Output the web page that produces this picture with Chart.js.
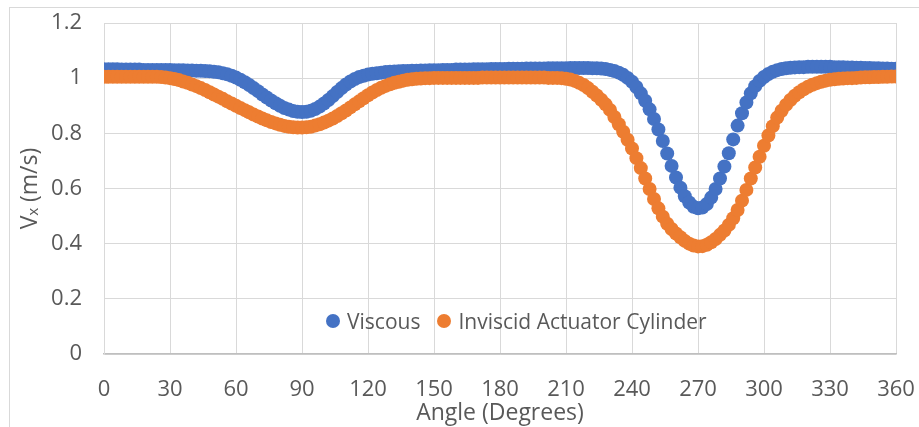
<!DOCTYPE html>
<html>
<head>
<meta charset="utf-8">
<script src="https://cdn.jsdelivr.net/npm/chart.js@4.4.1/dist/chart.umd.min.js"></script>
<style>
  body{margin:0;background:#fff;overflow:hidden;width:919px;height:427px;position:relative;font-family:'Open Sans',sans-serif}
  #frame{position:absolute;left:9px;top:7px;width:1000px;height:600px;border:1px solid #d9d9d9}
  #myChart{position:absolute;left:0;top:0}
  #leyenda{position:absolute;top:307px;left:326px;display:flex;align-items:center;font-size:21px;color:#595959;white-space:nowrap}
  #leyenda .dot{display:inline-block;width:14px;height:14px;border-radius:50%;margin-right:7px}
  #leyenda .item{display:flex;align-items:center;margin-right:17px}
</style>
</head>
<body>
<div id="frame"></div>
<canvas id="myChart" width="919" height="427"></canvas>
<div id="leyenda">
  <span class="item"><span class="dot" style="background:#4472c4"></span>Viscous</span>
  <span class="item"><span class="dot" style="background:#ed7d31"></span>Inviscid Actuator Cylinder</span>
</div>
<script>
// angulos (grados), cada 2
const angulos=[
  0,2,4,6,8,10,12,14,16,18,
  20,22,24,26,28,30,32,34,36,38,
  40,42,44,46,48,50,52,54,56,58,
  60,62,64,66,68,70,72,74,76,78,
  80,82,84,86,88,90,92,94,96,98,
  100,102,104,106,108,110,112,114,116,118,
  120,122,124,126,128,130,132,134,136,138,
  140,142,144,146,148,150,152,154,156,158,
  160,162,164,166,168,170,172,174,176,178,
  180,182,184,186,188,190,192,194,196,198,
  200,202,204,206,208,210,212,214,216,218,
  220,222,224,226,228,230,232,234,236,238,
  240,242,244,246,248,250,252,254,256,258,
  260,262,264,266,268,270,272,274,276,278,
  280,282,284,286,288,290,292,294,296,298,
  300,302,304,306,308,310,312,314,316,318,
  320,322,324,326,328,330,332,334,336,338,
  340,342,344,346,348,350,352,354,356,358,
  360
]

const viscous=[
  1.032,1.032,1.032,1.032,1.031,1.031,1.031,1.031,1.031,1.030,
  1.030,1.030,1.030,1.030,1.030,1.030,1.029,1.029,1.029,1.028,
  1.028,1.027,1.027,1.026,1.025,1.023,1.021,1.018,1.014,1.009,
  1.002,0.994,0.985,0.975,0.964,0.953,0.941,0.930,0.919,0.909,
  0.900,0.892,0.886,0.881,0.878,0.877,0.878,0.882,0.888,0.897,
  0.908,0.921,0.935,0.950,0.964,0.977,0.988,0.997,1.004,1.009,
  1.013,1.016,1.018,1.020,1.022,1.023,1.024,1.025,1.026,1.026,
  1.027,1.027,1.028,1.028,1.029,1.029,1.029,1.030,1.030,1.030,
  1.031,1.031,1.031,1.031,1.032,1.032,1.032,1.032,1.033,1.033,
  1.033,1.033,1.034,1.034,1.034,1.034,1.035,1.035,1.035,1.035,
  1.035,1.036,1.036,1.036,1.036,1.036,1.037,1.037,1.037,1.037,
  1.037,1.036,1.036,1.035,1.033,1.030,1.026,1.020,1.012,1.001,
  0.987,0.968,0.945,0.918,0.887,0.852,0.814,0.772,0.727,0.682,
  0.640,0.603,0.572,0.549,0.534,0.528,0.531,0.544,0.567,0.598,
  0.636,0.680,0.728,0.778,0.828,0.873,0.912,0.945,0.971,0.990,
  1.004,1.015,1.023,1.029,1.033,1.036,1.038,1.039,1.040,1.040,
  1.041,1.041,1.041,1.041,1.041,1.041,1.040,1.040,1.040,1.039,
  1.039,1.038,1.038,1.037,1.037,1.036,1.036,1.035,1.035,1.034,
  1.034
]

const inviscid=[
  1.005,1.005,1.005,1.005,1.005,1.005,1.005,1.005,1.005,1.005,
  1.005,1.005,1.005,1.004,1.002,1.000,0.997,0.993,0.988,0.983,
  0.977,0.971,0.964,0.957,0.949,0.941,0.933,0.925,0.916,0.908,
  0.900,0.892,0.884,0.876,0.868,0.861,0.854,0.847,0.841,0.836,
  0.831,0.827,0.824,0.822,0.821,0.821,0.822,0.824,0.828,0.833,
  0.839,0.846,0.854,0.863,0.873,0.883,0.894,0.905,0.916,0.927,
  0.938,0.948,0.957,0.965,0.972,0.978,0.983,0.987,0.991,0.994,
  0.996,0.998,0.999,1.000,1.000,1.001,1.001,1.001,1.001,1.001,
  1.001,1.001,1.001,1.001,1.001,1.001,1.002,1.002,1.002,1.002,
  1.002,1.002,1.002,1.002,1.002,1.002,1.002,1.002,1.002,1.002,
  1.002,1.001,1.001,1.001,1.000,0.998,0.995,0.990,0.983,0.975,
  0.964,0.951,0.937,0.922,0.905,0.885,0.859,0.833,0.806,0.777,
  0.745,0.710,0.674,0.636,0.598,0.562,0.528,0.498,0.472,0.453,
  0.437,0.423,0.410,0.400,0.393,0.390,0.391,0.396,0.405,0.417,
  0.432,0.448,0.468,0.492,0.522,0.556,0.595,0.636,0.676,0.715,
  0.755,0.792,0.826,0.857,0.882,0.903,0.921,0.936,0.949,0.960,
  0.969,0.976,0.982,0.987,0.991,0.994,0.996,0.998,0.999,1.000,
  1.000,1.001,1.002,1.003,1.003,1.004,1.004,1.005,1.005,1.006,
  1.006
]

const xticks=[0,30,60,90,120,150,180,210,240,270,300,330,360]

const gris='#595959'
const fuente={family:"'Open Sans', sans-serif",size:22}
const fuenteTitulo={family:"'Open Sans', sans-serif",size:23}

const ctx=document.getElementById('myChart').getContext('2d')
var myChart=new Chart(ctx,{
  type:'scatter',
  data:{
    datasets:[
      {
        label:'Viscous',
        data:angulos.map((a,i)=>({x:a,y:viscous[i]})),
        backgroundColor:'#4472c4',
        pointRadius:7,
        pointBorderWidth:0,
        order:2
      },
      {
        label:'Inviscid Actuator Cylinder',
        data:angulos.map((a,i)=>({x:a,y:inviscid[i]})),
        backgroundColor:'#ed7d31',
        pointRadius:7,
        pointBorderWidth:0,
        order:1
      }
    ]
  },
  options:{
    responsive:false,
    animation:false,
    layout:{padding:{left:0,right:23,top:23,bottom:0}},
    plugins:{legend:{display:false},tooltip:{enabled:false}},
    scales:{
      x:{
        type:'linear',min:0,max:360,
        afterBuildTicks:(s)=>{s.ticks=xticks.map(v=>({value:v}))},
        afterFit:(s)=>{s.height=73;s.paddingLeft=0;s.paddingRight=0},
        ticks:{color:gris,font:fuente,padding:23,maxRotation:0},
        grid:{color:'#d9d9d9',drawTicks:false},
        border:{color:'#bfbfbf',width:1.5},
        title:{display:true,text:'Angle (Degrees)',color:gris,font:fuenteTitulo,padding:{top:0,bottom:0}}
      },
      y:{
        min:0,max:1.2,
        ticks:{stepSize:0.2,color:gris,font:fuente,padding:22,
          callback:(v)=>Math.round(v*10)/10},
        afterFit:(s)=>{s.width=104;s.paddingTop=0;s.paddingBottom=0},
        grid:{color:'#d9d9d9',drawTicks:false},
        border:{color:'#d9d9d9'},
        title:{display:true,text:'Vₓ (m/s)',color:gris,font:fuenteTitulo,padding:{top:17,bottom:0}}
      }
    }
  }
})
</script>
</body>
</html>
